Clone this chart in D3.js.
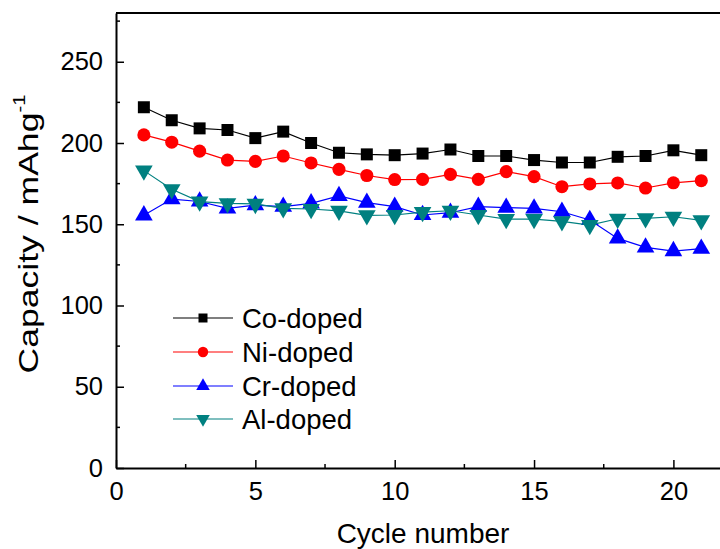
<!DOCTYPE html>
<html lang="en">
<head>
<meta charset="UTF-8">
<title>Capacity vs cycle number</title>
<script src="https://d3js.org/d3.v7.min.js"></script>
<style>
    body { margin: 0; background: #fff; }
    svg { display: block; font-family: Arial, "Liberation Sans", sans-serif; }
</style>
</head>
<body>
<svg id="chart" width="720" height="549"></svg>
<script>
// cycle numbers and capacities (mAh/g)
const cycles = d3.range(1, 22);
const coDoped = [222, 214, 209, 208, 203, 207, 200, 194, 193, 192.5, 193.5, 196, 192, 192, 189.5, 188, 188, 191.5, 192, 195.5, 192.5];
const niDoped = [205, 200.5, 195, 189.5, 188.7, 192, 187.7, 183.8, 180, 177.5, 177.6, 180.7, 177.6, 182.4, 179.3, 173.1, 174.8, 175.4, 172.3, 175.5, 176.8];
const crDoped = [155.5, 165.5, 164, 159.8, 161.8, 160.8, 162.9, 167.4, 163.3, 160.8, 155.7, 157.1, 160.8, 160.2, 159.8, 157.7, 152.6, 141.3, 135.8, 133.5, 135];
const alDoped = [183, 171.5, 163.9, 162.9, 162.5, 159.8, 159.4, 158.2, 155.5, 155.7, 157.5, 158.3, 155.7, 153.2, 153.2, 151.8, 149.5, 153.4, 153.6, 154.6, 152.4];

const seriesNames = ["Co-doped", "Ni-doped", "Cr-doped", "Al-doped"];
const seriesValues = [coDoped, niDoped, crDoped, alDoped];
const seriesColors = ["#000000", "#ff0000", "#0000ff", "#008080"];
const seriesSymbols = ["square", "circle", "triangle", "triangleDown"];

const xTicks = [0, 5, 10, 15, 20];
const yTicks = [0, 50, 100, 150, 200, 250];

const svg = d3.select("#chart");

const x = d3.scaleLinear().domain([0, 22]).range([116, 116 + 22 * 27.87]);
const y = d3.scaleLinear().domain([0, 280]).range([468, 13]);

// symbol path by name and area
function symbolPath(kind, size) {
    if (kind === "square") return d3.symbol(d3.symbolSquare, size)();
    if (kind === "circle") return d3.symbol(d3.symbolCircle, size)();
    return d3.symbol(d3.symbolTriangle, size)();
}

// axes, ticks pointing inward
const xAxis = d3.axisBottom(x).tickValues(xTicks).tickSizeInner(-8).tickSizeOuter(0).tickPadding(14);
const yAxis = d3.axisLeft(y).tickValues(yTicks).tickSizeInner(-8).tickSizeOuter(0).tickPadding(13);

const gx = svg.append("g").attr("transform", `translate(0,${y(0)})`).call(xAxis);
const gy = svg.append("g").attr("transform", `translate(${x(0)},0)`).call(yAxis);

[gx, gy].forEach(g => {
    g.select(".domain").attr("stroke", "#000").attr("stroke-width", 2);
    g.selectAll(".tick line").attr("stroke", "#000").attr("stroke-width", 1.5);
    g.selectAll(".tick text").attr("font-size", 25.5).attr("fill", "#000").attr("font-family", "Arial, 'Liberation Sans', sans-serif");
});

// minor ticks
const xMinor = [2.5, 7.5, 12.5, 17.5];
const yMinor = [25, 75, 125, 175, 225, 275];
svg.append("g").selectAll("line").data(xMinor).join("line")
    .attr("x1", d => x(d)).attr("x2", d => x(d))
    .attr("y1", y(0)).attr("y2", y(0) - 4)
    .attr("stroke", "#000").attr("stroke-width", 1.5);
svg.append("g").selectAll("line").data(yMinor).join("line")
    .attr("x1", x(0)).attr("x2", x(0) + 4)
    .attr("y1", d => y(d)).attr("y2", d => y(d))
    .attr("stroke", "#000").attr("stroke-width", 1.5);

// top frame line
svg.append("line")
    .attr("x1", x(0)).attr("x2", x(22))
    .attr("y1", y(280)).attr("y2", y(280))
    .attr("stroke", "#000").attr("stroke-width", 2);

// series lines and markers
const line = d3.line().x(d => x(d[0])).y(d => y(d[1]));

seriesValues.forEach((vals, i) => {
    const pts = cycles.map((c, j) => [c, vals[j]]);
    svg.append("path")
        .datum(pts)
        .attr("d", line)
        .attr("fill", "none")
        .attr("stroke", seriesColors[i])
        .attr("stroke-width", 1.2);
    const kind = seriesSymbols[i];
    const size = kind === "square" ? 144 : kind === "circle" ? 135 : 135;
    svg.append("g").selectAll("path").data(pts).join("path")
        .attr("d", symbolPath(kind, size))
        .attr("transform", d => `translate(${x(d[0])},${y(d[1])})` + (kind === "triangleDown" ? " rotate(180)" : ""))
        .attr("fill", seriesColors[i]);
});

// legend
const legend = svg.append("g");
const legendY = [318, 352, 386, 419];
seriesNames.forEach((name, i) => {
    const g = legend.append("g").attr("transform", `translate(0,${legendY[i]})`);
    g.append("line").attr("x1", 173).attr("x2", 233).attr("y1", 0).attr("y2", 0)
        .attr("stroke", seriesColors[i]).attr("stroke-width", 1.2);
    const kind = seriesSymbols[i];
    const size = kind === "square" ? 81 : kind === "circle" ? 85 : 80;
    g.append("path")
        .attr("d", symbolPath(kind, size))
        .attr("transform", `translate(203,0)` + (kind === "triangleDown" ? " rotate(180)" : ""))
        .attr("fill", seriesColors[i]);
    g.append("text").attr("x", 242).attr("y", 0).attr("dy", "0.36em")
        .attr("font-size", 27.5).attr("fill", "#000").text(name);
});

// axis titles
svg.append("text")
    .attr("x", 423).attr("y", 543)
    .attr("text-anchor", "middle").attr("font-size", 28).attr("fill", "#000")
    .text("Cycle number");

// y title is drawn stretched along its length, as in the original figure
const yTitle = svg.append("text")
    .attr("transform", `translate(38,234) rotate(-90) scale(1.27,1)`)
    .attr("text-anchor", "middle").attr("font-size", 28).attr("fill", "#000");
yTitle.append("tspan").text("Capacity / mAhg");
yTitle.append("tspan").attr("font-size", 16).attr("dy", "-0.8em").text("-1");
</script>
</body>
</html>
